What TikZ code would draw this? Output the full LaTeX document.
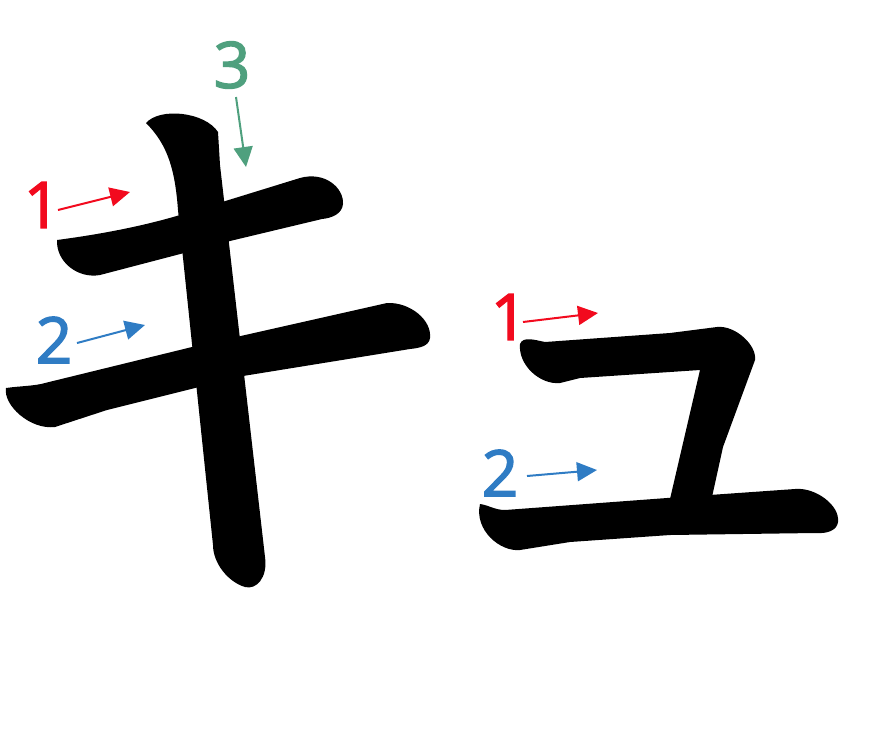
\documentclass[tikz,border=0pt]{standalone}
\usepackage{fontspec}
\setmainfont{Open Sans}
\newfontfamily\numfont[FakeBold=2.2]{Open Sans}
\usepackage{xcolor}
\usetikzlibrary{arrows.meta}
\definecolor{orderred}{HTML}{F20A1E}
\definecolor{orderblue}{HTML}{2F7CC4}
\definecolor{ordergreen}{HTML}{4FA07E}

\begin{document}
\begin{tikzpicture}[x=1pt,y=-1pt,
  numlabel/.style={font=\numfont\fontsize{64}{64}\selectfont,inner sep=0pt},
  order/.style={line width=2pt,-{Triangle[length=20pt,width=19pt]}}]
  \useasboundingbox (0,0) rectangle (880,739);
  % ki, stroke 1
  \fill (57,240) .. controls (110,233) and (150,224) .. (180,215) -- (300,178)
    .. controls (325,171) and (344,188) .. (343,204) .. controls (342,214) and (332,218) .. (322,219)
    -- (230,241) -- (100,275) .. controls (78,279) and (56,262) .. (57,240) -- cycle;
  % ki, stroke 2
  \fill (6,388) .. controls (20,386) and (35,386) .. (45,383) -- (192,347) -- (387,303)
    .. controls (410,302) and (432,320) .. (430,338) .. controls (429,346) and (420,348) .. (410,349)
    -- (243,376) -- (107,410) -- (55,427) .. controls (30,430) and (3,405) .. (6,388) -- cycle;
  % ki, stroke 3
  \fill (146,123) .. controls (160,107) and (205,112) .. (218,132) -- (220,165) -- (265,557)
    .. controls (268,578) and (256,590) .. (245,587) .. controls (228,582) and (213,563) .. (213,545)
    -- (178,210) .. controls (175,170) and (168,145) .. (146,123) -- cycle;
  % yu, stroke 1
  \fill (520,344) .. controls (523,336) and (535,340) .. (545,342) -- (670,333) -- (717,327)
    .. controls (735,325) and (757,345) .. (755,360) -- (723,447) -- (712,497) -- (670,499)
    -- (700,370) -- (580,378) -- (560,383) .. controls (540,385) and (518,365) .. (520,344) -- cycle;
  % yu, stroke 2
  \fill (480,504) .. controls (488,505) and (495,510) .. (505,510) -- (667,498) -- (795,489)
    .. controls (815,487) and (840,505) .. (838,522) .. controls (837,530) and (828,534) .. (815,533)
    -- (670,535) -- (570,542) -- (520,550) .. controls (500,552) and (474,530) .. (480,504) -- cycle;

  % order numbers
  \node[numlabel,text=orderred] (kiA) at (42,205) {1};
  \node[numlabel,text=orderblue] (kiB) at (54,340) {2};
  \node[numlabel,text=ordergreen] (kiC) at (232,65) {3};
  \node[numlabel,text=orderred] (yuA) at (509,317) {1};
  \node[numlabel,text=orderblue] (yuB) at (500,473) {2};

  \coordinate (kiAs) at (58,210);  \coordinate (kiAe) at (130,192);
  \coordinate (kiBs) at (77,343);  \coordinate (kiBe) at (145,325);
  \coordinate (kiCs) at (236,97);  \coordinate (kiCe) at (246,167);
  \coordinate (yuAs) at (523,322); \coordinate (yuAe) at (598,313);
  \coordinate (yuBs) at (527,476); \coordinate (yuBe) at (597,470);
  \draw[order,orderred] (kiAs) -- (kiAe);
  \draw[order,orderblue] (kiBs) -- (kiBe);
  \draw[order,ordergreen] (kiCs) -- (kiCe);
  \draw[order,orderred] (yuAs) -- (yuAe);
  \draw[order,orderblue] (yuBs) -- (yuBe);
\end{tikzpicture}
\end{document}
